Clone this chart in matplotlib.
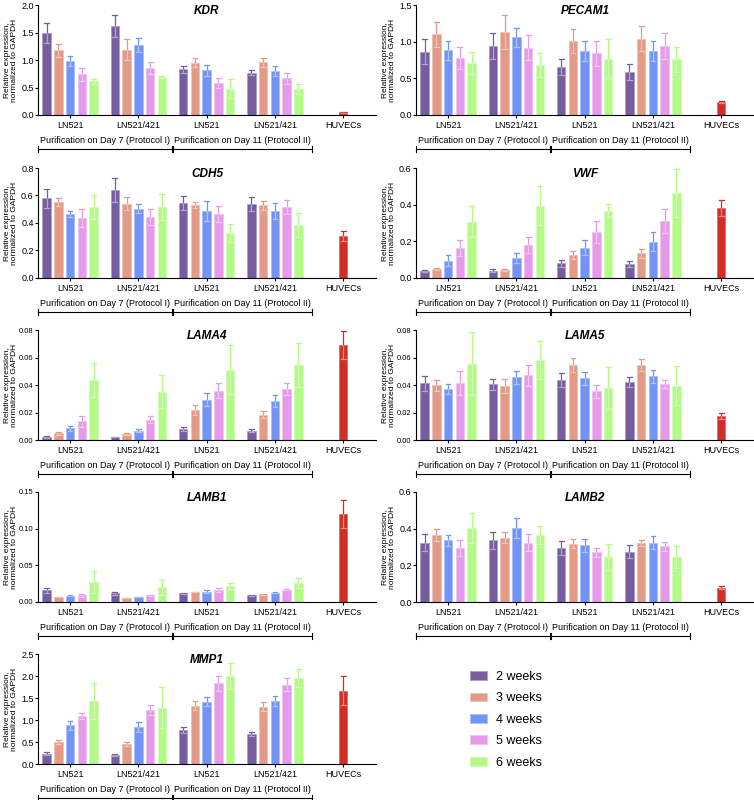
import matplotlib
matplotlib.use('Agg')
import matplotlib.pyplot as plt
import matplotlib.colors as mcolors
from matplotlib.patches import Patch
import numpy as np

plt.rcParams['font.family'] = ['Liberation Sans', 'DejaVu Sans']

# ---- data ----
weeks = ['2 weeks', '3 weeks', '4 weeks', '5 weeks', '6 weeks']
groups = ['LN521', 'LN521/421', 'LN521', 'LN521/421', 'HUVECs']
genes = ['KDR', 'PECAM1', 'CDH5', 'VWF', 'LAMA4', 'LAMA5', 'LAMB1', 'LAMB2', 'MMP1']

# means: rows = groups (D7 LN521, D7 LN521/421, D11 LN521, D11 LN521/421), cols = weeks
kdr = [[1.49, 1.18, 0.99, 0.74, 0.61], [1.62, 1.19, 1.27, 0.86, 0.69],
       [0.83, 0.95, 0.81, 0.59, 0.48], [0.77, 0.96, 0.80, 0.67, 0.47]]
kdr_sd = [[0.18, 0.12, 0.09, 0.12, 0.05], [0.20, 0.19, 0.13, 0.11, 0.02],
          [0.07, 0.08, 0.10, 0.09, 0.17], [0.05, 0.08, 0.09, 0.10, 0.09]]
pecam1 = [[0.86, 1.10, 0.88, 0.78, 0.71], [0.94, 1.13, 1.06, 0.92, 0.68],
          [0.65, 1.01, 0.87, 0.84, 0.77], [0.59, 1.04, 0.87, 0.94, 0.76]]
pecam1_sd = [[0.17, 0.17, 0.13, 0.15, 0.15], [0.18, 0.23, 0.13, 0.17, 0.16],
             [0.11, 0.16, 0.14, 0.17, 0.27], [0.11, 0.17, 0.14, 0.18, 0.17]]
cdh5 = [[0.58, 0.553, 0.465, 0.436, 0.516], [0.64, 0.54, 0.504, 0.444, 0.516],
        [0.545, 0.528, 0.487, 0.468, 0.327], [0.538, 0.528, 0.487, 0.514, 0.385]]
cdh5_sd = [[0.07, 0.027, 0.025, 0.064, 0.084], [0.085, 0.047, 0.032, 0.056, 0.094],
           [0.049, 0.022, 0.071, 0.058, 0.063], [0.049, 0.034, 0.058, 0.051, 0.085]]
vwf = [[0.038, 0.048, 0.095, 0.165, 0.307], [0.040, 0.042, 0.108, 0.179, 0.395],
       [0.080, 0.126, 0.166, 0.252, 0.368], [0.075, 0.134, 0.199, 0.309, 0.463]]
vwf_sd = [[0.006, 0.007, 0.029, 0.043, 0.083], [0.009, 0.006, 0.027, 0.044, 0.105],
          [0.019, 0.022, 0.042, 0.061, 0.038], [0.015, 0.023, 0.051, 0.066, 0.13]]
lama4 = [[0.0022, 0.0049, 0.0084, 0.0135, 0.0436], [0.0022, 0.0042, 0.0069, 0.0148, 0.0352],
         [0.0081, 0.0219, 0.0293, 0.0359, 0.0512], [0.0069, 0.0185, 0.0283, 0.0372, 0.0549]]
lama4_sd = [[0.0005, 0.001, 0.0017, 0.0037, 0.0124], [0.0003, 0.0007, 0.0012, 0.0024, 0.0121],
            [0.0017, 0.0035, 0.0049, 0.0057, 0.0178], [0.0012, 0.0024, 0.0044, 0.0046, 0.016]]
lama5 = [[0.0411, 0.0399, 0.0372, 0.0416, 0.0554], [0.0406, 0.0394, 0.0455, 0.047, 0.0583],
         [0.0436, 0.0544, 0.0448, 0.0354, 0.0379], [0.0423, 0.0544, 0.0463, 0.0406, 0.0396]]
lama5_sd = [[0.0057, 0.0039, 0.0037, 0.0089, 0.0229], [0.004, 0.0049, 0.005, 0.0076, 0.0138],
            [0.0049, 0.0049, 0.0049, 0.0045, 0.015], [0.0037, 0.0042, 0.0047, 0.0027, 0.0141]]
lamb1 = [[0.0157, 0.0069, 0.0088, 0.0092, 0.0277], [0.012, 0.0055, 0.0069, 0.0092, 0.0198],
         [0.012, 0.0138, 0.0143, 0.0162, 0.0217], [0.0092, 0.0106, 0.0129, 0.0166, 0.0254]]
lamb1_sd = [[0.0037, 0.0005, 0.0004, 0.0023, 0.0148], [0.0023, 0.0005, 0.0005, 0.001, 0.0107],
            [0.0005, 0.0005, 0.0014, 0.0023, 0.0046], [0.0005, 0.0004, 0.0005, 0.0005, 0.0069]]
lamb2 = [[0.323, 0.367, 0.336, 0.294, 0.402], [0.336, 0.351, 0.402, 0.323, 0.367],
         [0.295, 0.318, 0.31, 0.271, 0.247], [0.275, 0.321, 0.323, 0.303, 0.247]]
lamb2_sd = [[0.046, 0.033, 0.031, 0.042, 0.082], [0.046, 0.031, 0.054, 0.046, 0.048],
            [0.037, 0.025, 0.035, 0.023, 0.071], [0.037, 0.017, 0.035, 0.024, 0.061]]
mmp1 = [[0.233, 0.495, 0.878, 1.089, 1.434], [0.203, 0.45, 0.833, 1.231, 1.284],
        [0.773, 1.329, 1.419, 1.832, 2.004], [0.683, 1.306, 1.434, 1.802, 1.952]]
mmp1_sd = [[0.03, 0.045, 0.105, 0.075, 0.413], [0.03, 0.045, 0.113, 0.12, 0.458],
           [0.068, 0.112, 0.098, 0.172, 0.293], [0.053, 0.105, 0.12, 0.15, 0.21]]

huvec = [0.05, 0.18, 0.305, 0.38, 0.0689, 0.0172, 0.1195, 0.078, 1.667]
huvec_sd = [0.01, 0.01, 0.039, 0.044, 0.0101, 0.0022, 0.019, 0.007, 0.33]

means = [kdr, pecam1, cdh5, vwf, lama4, lama5, lamb1, lamb2, mmp1]
sds = [kdr_sd, pecam1_sd, cdh5_sd, vwf_sd, lama4_sd, lama5_sd, lamb1_sd, lamb2_sd, mmp1_sd]
ymax = [2.0, 1.5, 0.8, 0.6, 0.08, 0.08, 0.15, 0.6, 2.5]
ystep = [0.5, 0.5, 0.2, 0.2, 0.02, 0.02, 0.05, 0.2, 0.5]
ydec = [1, 1, 1, 1, 2, 2, 2, 1, 1]

week_colors = ['#765d9f', '#e39a86', '#7294f6', '#e69ae9', '#b3fa86']
huvec_color = '#d12f26'


def lighten(c, f):
    r = np.array(mcolors.to_rgb(c))
    return tuple(r + (1 - r) * f)


def errbar(ax, x, m, s, c):
    # upper whisker in bar colour, lower (inside bar) lighter
    lc = lighten(c, 0.45)
    hw = 0.035
    ax.plot([x, x], [m, m + s], color=c, lw=0.9, zorder=3, solid_capstyle='butt')
    ax.plot([x - hw, x + hw], [m + s, m + s], color=c, lw=0.9, zorder=3)
    ax.plot([x, x], [m - s, m], color=lc, lw=0.9, zorder=3, solid_capstyle='butt')
    ax.plot([x - hw, x + hw], [m - s, m - s], color=lc, lw=0.9, zorder=3)


fig = plt.figure(figsize=(7.54, 8.0), dpi=100)

col_left = [38 / 754, 416 / 754]
ax_w = 338 / 754
row_bottom = [115, 278, 440, 602, 764]
ax_h = 110 / 800

offsets = np.arange(5) - 2
bw = 0.125
dx = 0.172
small = 6.5

for gi, gene in enumerate(genes):
    r, c = divmod(gi, 2)
    ax = fig.add_axes([col_left[c], 1 - row_bottom[r] / 800, ax_w, ax_h])
    m = np.array(means[gi])
    s = np.array(sds[gi])
    for w in range(5):
        xs = np.arange(4) + offsets[w] * dx
        ax.bar(xs, m[:, w], width=bw, color=week_colors[w],
               edgecolor=lighten(week_colors[w], 0.4), linewidth=0.6, zorder=2)
        for k in range(4):
            errbar(ax, xs[k], m[k, w], s[k, w], week_colors[w])
    ax.bar([4], [huvec[gi]], width=bw, color=huvec_color,
           edgecolor=lighten(huvec_color, 0.3), linewidth=0.6, zorder=2)
    errbar(ax, 4, huvec[gi], huvec_sd[gi], huvec_color)

    ax.set_xlim(-0.47, 4.48)
    ax.set_ylim(0, ymax[gi])
    ticks = np.arange(0, ymax[gi] + ystep[gi] / 2, ystep[gi])
    ax.set_yticks(ticks)
    ysize = small if ydec[gi] == 1 else 5.4
    ax.set_yticklabels([f'{t:.{ydec[gi]}f}' for t in ticks], fontsize=ysize)
    ax.set_xticks(range(5))
    ax.set_xticklabels(groups, fontsize=small)
    ax.tick_params(axis='both', length=2.5, width=0.8)
    ax.tick_params(axis='x', pad=1.5)
    ax.tick_params(axis='y', pad=0.6)
    for sp in ['top', 'right']:
        ax.spines[sp].set_visible(False)
    for sp in ['left', 'bottom']:
        ax.spines[sp].set_linewidth(0.8)
    ax.set_ylabel('Relative expression,\nnormalized to GAPDH', fontsize=6.0,
                  linespacing=1.0)
    ax.yaxis.set_label_coords(-0.058, 0.5)
    ax.text(0.5, 1.0, gene, transform=ax.transAxes, ha='center', va='top',
            fontsize=8.5, fontweight='bold', fontstyle='italic')

    # protocol brackets below the axis
    tr = ax.get_xaxis_transform()
    yb = -0.31
    ax.plot([-0.47, 3.55], [yb, yb], color='black', lw=0.8, transform=tr, clip_on=False)
    for xe in [-0.47, 1.49, 1.51, 3.55]:
        ax.plot([xe, xe], [yb - 0.025, yb + 0.025], color='black', lw=0.8,
                transform=tr, clip_on=False)
    ax.text(0.51, yb + 0.035, 'Purification on Day 7 (Protocol I)', transform=tr,
            ha='center', va='bottom', fontsize=small)
    ax.text(2.53, yb + 0.035, 'Purification on Day 11 (Protocol II)', transform=tr,
            ha='center', va='bottom', fontsize=small)

handles = [Patch(facecolor=col, edgecolor=lighten(col, 0.4), linewidth=0.6)
           for col in week_colors]
fig.legend(handles, weeks, loc='upper left', bbox_to_anchor=(470 / 754, 1 - 671 / 800),
           frameon=False, fontsize=9, handlelength=1.36, handleheight=0.72,
           handletextpad=0.72, labelspacing=0.75, borderpad=0, borderaxespad=0)

fig.savefig('out.png', dpi=100)
